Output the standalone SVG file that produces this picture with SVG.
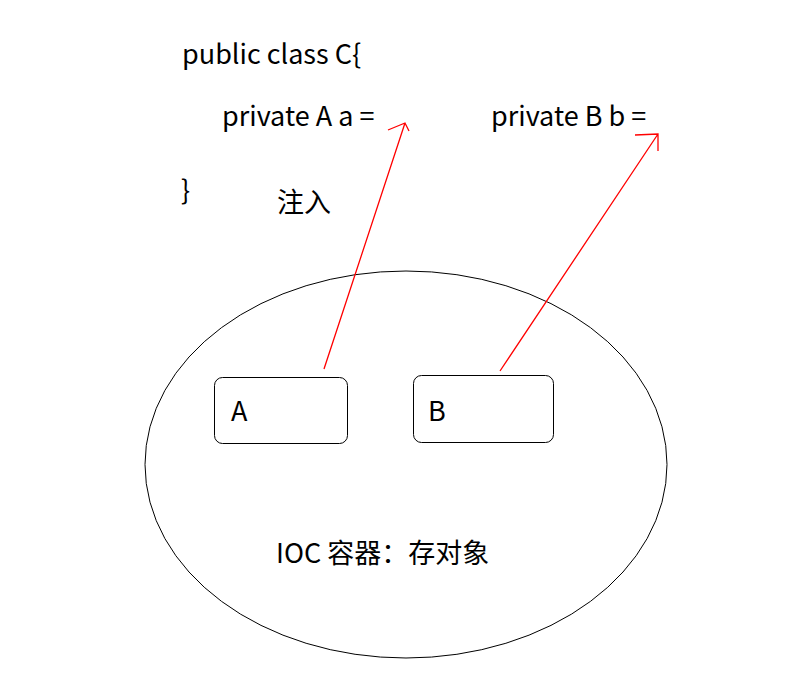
<svg xmlns="http://www.w3.org/2000/svg" width="794" height="697" viewBox="0 0 794 697">
<style>
text{font-family:"Noto Sans CJK SC","Noto Sans",sans-serif;font-size:27px;fill:#000}
.box{fill:#fff;stroke:#000;stroke-width:1}
.arr{fill:none;stroke:#ff0000;stroke-width:1.3}
</style>
<rect width="794" height="697" fill="#fff"/>
<g id="code">
<text x="182" y="64">public class C{</text>
<text x="222" y="126">private A a =</text>
<text x="491" y="126">private B b =</text>
<text x="181" y="200">}</text>
<text x="277" y="212">注入</text>
</g>
<g id="container">
<ellipse cx="406" cy="464.5" rx="261" ry="193.5" fill="none" stroke="#000" stroke-width="1"/>
<text x="276" y="563">IOC 容器：存对象</text>
</g>
<g id="nodeA">
<rect class="box" x="214.5" y="377.5" width="133" height="66" rx="8"/>
<text x="231" y="421">A</text>
</g>
<g id="nodeB">
<rect class="box" x="413.5" y="375.5" width="140" height="67" rx="8"/>
<text x="428" y="421">B</text>
</g>
<g id="connectors">
<path class="arr" d="M324 369 L405 123 M388 130 L405 123 L409 131"/>
<path class="arr" d="M500 371 L658 134 M635 135 L658 134 L658 151"/>
</g>
</svg>
